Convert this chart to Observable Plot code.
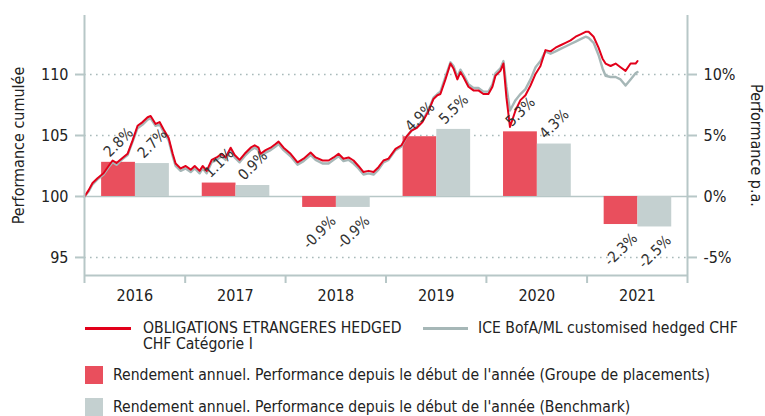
<!DOCTYPE html>
<html><head><meta charset="utf-8">
<script src="https://cdn.jsdelivr.net/npm/d3@7"></script>
<script src="https://cdn.jsdelivr.net/npm/@observablehq/plot@0.6"></script>
<style>
body{margin:0;background:#fff;font-family:"DejaVu Sans Condensed","DejaVu Sans",sans-serif;color:#222}
#wrap{position:relative;width:765px;height:416px;overflow:hidden}
#chart{position:absolute;left:0;top:0}
.lg{position:absolute;font-size:15.6px;line-height:14px;white-space:nowrap;color:#222}
.sw{position:absolute}
</style></head><body>
<div id="wrap">
<div id="chart"></div>
<div id="legend"></div>
</div>
<script>
// ---------- data ----------
const years = [2016, 2017, 2018, 2019, 2020, 2021];
const fundAnnual = [2.8, 1.1, -0.9, 4.9, 5.3, -2.3];
const benchAnnual = [2.7, 0.9, -0.9, 5.5, 4.3, -2.5];

const dates = [
 2016.000,2016.040,2016.080,2016.129,2016.189,2016.239,2016.279,2016.318,2016.368,2016.428,2016.478,2016.527,2016.577,2016.627,2016.657,2016.706,2016.746,2016.786,2016.836,2016.876,2016.905,2016.955,
 2017.005,2017.055,2017.095,2017.144,2017.174,2017.214,2017.264,2017.313,2017.363,2017.403,2017.453,2017.493,2017.542,2017.592,2017.652,2017.692,2017.731,2017.751,2017.801,2017.851,2017.900,2017.930,2017.980,
 2018.050,2018.119,2018.179,2018.249,2018.299,2018.368,2018.428,2018.478,2018.527,2018.577,2018.627,2018.677,2018.726,2018.776,2018.826,2018.876,2018.925,2018.975,
 2019.025,2019.095,2019.154,2019.204,2019.254,2019.303,2019.363,2019.423,2019.473,2019.512,2019.542,2019.592,2019.642,2019.672,2019.711,2019.741,2019.771,2019.821,2019.871,2019.920,2019.970,
 2020.020,2020.060,2020.090,2020.139,2020.169,2020.199,2020.234,2020.289,2020.338,2020.388,2020.438,2020.488,2020.537,2020.587,2020.637,2020.687,2020.736,2020.786,2020.836,2020.886,2020.935,2020.985,
 2021.015,2021.065,2021.114,2021.154,2021.184,2021.234,2021.284,2021.333,2021.383,2021.433,2021.483,2021.502
];
const fundCum = [
 100.0,100.5,101.1,101.5,101.9,102.5,102.95,102.75,103.1,103.5,104.6,105.8,106.1,106.5,106.6,105.95,106.1,105.5,104.8,103.5,102.7,102.3,
 102.5,102.2,102.5,102.1,102.5,102.1,103.0,103.2,103.5,103.2,104.0,103.4,103.0,103.5,104.0,104.2,104.0,103.5,103.8,104.0,104.3,104.5,104.0,
 103.5,102.8,103.1,103.6,103.2,102.95,102.95,103.2,103.5,103.1,103.2,102.95,102.5,102.0,102.1,102.0,102.4,102.95,
 103.1,103.9,104.2,104.9,105.4,105.6,106.1,107.0,108.0,108.3,108.4,109.6,110.9,110.5,109.6,110.2,109.8,109.0,108.7,108.7,108.4,
 108.4,109.0,109.9,110.3,110.9,108.1,105.7,107.05,107.9,108.3,109.1,110.05,110.7,112.0,111.9,112.2,112.4,112.6,112.8,113.1,113.3,113.5,
 113.5,113.1,112.2,111.3,110.9,110.7,110.9,110.6,110.3,110.9,110.9,111.1
];
const benchCum = [
 100.0,100.4,101.0,101.4,101.8,102.4,102.8,102.6,103.0,103.4,104.5,105.6,105.9,106.3,106.4,105.8,105.9,105.3,104.6,103.3,102.5,102.1,
 102.3,102.0,102.3,101.9,102.3,101.9,102.8,103.0,103.3,103.0,103.8,103.2,102.8,103.3,103.8,104.0,103.8,103.3,103.6,103.8,104.1,104.3,103.8,
 103.3,102.6,102.9,103.4,103.0,102.7,102.7,103.0,103.3,102.9,103.0,102.7,102.3,101.8,101.9,101.8,102.2,102.8,
 103.0,103.8,104.1,104.9,105.4,105.7,106.2,107.1,108.1,108.4,108.6,109.8,111.0,110.7,109.8,110.4,110.0,109.2,108.9,108.9,108.6,
 108.6,109.2,110.1,110.5,111.1,109.0,107.05,107.9,108.4,108.8,109.6,110.6,111.1,111.9,111.7,111.9,112.1,112.3,112.5,112.7,112.9,113.1,
 113.0,112.6,111.6,110.5,109.9,109.8,109.8,109.6,109.1,109.6,110.1,110.2
];

const leftTicks = [95, 100, 105, 110];
const rightTickLabels = ["-5%", "0%", "5%", "10%"];
const fundNameLines = ["OBLIGATIONS ETRANGERES HEDGED", "CHF Catégorie I"];
const benchName = "ICE BofA/ML customised hedged CHF";
const barFundLabel = "Rendement annuel. Performance depuis le début de l'année (Groupe de placements)";
const barBenchLabel = "Rendement annuel. Performance depuis le début de l'année (Benchmark)";
const leftTitle = "Performance cumulée";
const rightTitle = "Performance p.a.";

// ---------- styling ----------
const C = {
  redLine: "#e2001a", greyLine: "#a6b7b7",
  redBar: "#e94f5d", greyBar: "#c4d0d0",
  axis: "#b7c7c7", grid: "#a9baba", text: "#222"
};

// ---------- helpers ----------
const toDate = t => {
  const y = Math.floor(t), f = t - y;
  const a = Date.UTC(y, 0, 1), b = Date.UTC(y + 1, 0, 1);
  return new Date(a + f * (b - a));
};
const base = 100; // cumulated index base; 0% on the right axis
const fundSeries = dates.map((t, i) => ({date: toDate(t), v: fundCum[i]}));
const benchSeries = dates.map((t, i) => ({date: toDate(t), v: benchCum[i]}));

const slot = {fund: [0.17, 0.506], bench: [0.506, 0.843]};
const bars = [];
years.forEach((y, i) => {
  bars.push({year: y, s: "fund", value: fundAnnual[i]});
  bars.push({year: y, s: "bench", value: benchAnnual[i]});
});
bars.forEach(b => {
  b.x1 = toDate(b.year + slot[b.s][0]);
  b.x2 = toDate(b.year + slot[b.s][1]);
  b.xc = toDate(b.year + (slot[b.s][0] + slot[b.s][1]) / 2);
  b.label = b.value.toFixed(1) + "%";
});

const xDomain = [toDate(years[0]), toDate(years[years.length - 1] + 1)];
const yDomain = [93.52, 114.84];
const yearBounds = years.concat([years[years.length - 1] + 1]).map(y => toDate(y));
const yearMids = years.map(y => toDate(y + 0.5));

const font = '"DejaVu Sans Condensed","DejaVu Sans",sans-serif';

const chart = Plot.plot({
  width: 765, height: 310,
  marginLeft: 84, marginRight: 78, marginTop: 15, marginBottom: 35,
  style: {fontFamily: font, fontSize: "16px", color: C.text, background: "transparent", overflow: "visible"},
  x: {type: "utc", domain: xDomain},
  y: {domain: yDomain},
  marks: [
    Plot.ruleY(leftTicks.filter(d => d !== base), {stroke: C.grid, strokeWidth: 1.6, strokeDasharray: "1.6,4.4"}),
    Plot.ruleY([base], {stroke: C.axis, strokeWidth: 1.6}),
    Plot.rect(bars, {x1: "x1", x2: "x2", y1: () => base, y2: d => base + d.value,
      fill: d => d.s === "fund" ? C.redBar : C.greyBar}),
    Plot.line(benchSeries, {x: "date", y: "v", stroke: C.greyLine, strokeWidth: 2.4}),
    Plot.line(fundSeries, {x: "date", y: "v", stroke: C.redLine, strokeWidth: 2}),
    Plot.text(bars.filter(d => d.value >= 0), {x: "xc", y: d => base + d.value, text: "label",
      rotate: -45, dy: -20, fontSize: 15, fill: "#333"}),
    Plot.text(bars.filter(d => d.value < 0), {x: "xc", y: d => base + d.value, text: "label",
      rotate: -45, dy: 25, fontSize: 15, fill: "#333"}),
    // axis frame lines
    Plot.ruleX([xDomain[0], xDomain[1]], {stroke: C.axis, strokeWidth: 2}),
    Plot.ruleY([yDomain[0]], {stroke: C.axis, strokeWidth: 2}),
    Plot.axisY({anchor: "left", ticks: leftTicks, tickSize: 9, tickPadding: 7, label: null,
      stroke: C.axis, strokeWidth: 2, fill: C.text}),
    Plot.axisY({anchor: "right", ticks: leftTicks, tickFormat: d => rightTickLabels[leftTicks.indexOf(d)],
      tickSize: 9, tickPadding: 7, label: null, stroke: C.axis, strokeWidth: 2, fill: C.text}),
    Plot.axisX({ticks: yearBounds, tickSize: 8, tickFormat: () => "", label: null, stroke: C.axis, strokeWidth: 2}),
    Plot.axisX({ticks: yearMids, tickSize: 0, tickPadding: 14, tickFormat: d => String(d.getUTCFullYear()), label: null, fill: C.text}),
    Plot.text([leftTitle], {frameAnchor: "left", textAnchor: "middle", dx: -66, rotate: -90, fontSize: 16, fill: C.text}),
    Plot.text([rightTitle], {frameAnchor: "right", textAnchor: "middle", dx: 69, rotate: 90, fontSize: 16, fill: C.text})
  ]
});
document.getElementById("chart").appendChild(chart);

// ---------- legend ----------
const lg = document.getElementById("legend");
const add = (html) => { lg.insertAdjacentHTML("beforeend", html); };
add(`<div class="sw" style="left:85px;top:327px;width:46px;height:3px;background:${C.redLine}"></div>`);
add(`<div class="lg" style="left:143px;top:321px">${fundNameLines[0]}</div>`);
add(`<div class="lg" style="left:143px;top:337px">${fundNameLines[1]}</div>`);
add(`<div class="sw" style="left:423px;top:327px;width:45px;height:3px;background:${C.greyLine}"></div>`);
add(`<div class="lg" style="left:478px;top:321px">${benchName}</div>`);
add(`<div class="sw" style="left:85px;top:366px;width:18px;height:18px;background:${C.redBar}"></div>`);
add(`<div class="lg" style="left:113px;top:368px">${barFundLabel}</div>`);
add(`<div class="sw" style="left:85px;top:398px;width:18px;height:18px;background:${C.greyBar}"></div>`);
add(`<div class="lg" style="left:113px;top:400px">${barBenchLabel}</div>`);
</script>
</body></html>
